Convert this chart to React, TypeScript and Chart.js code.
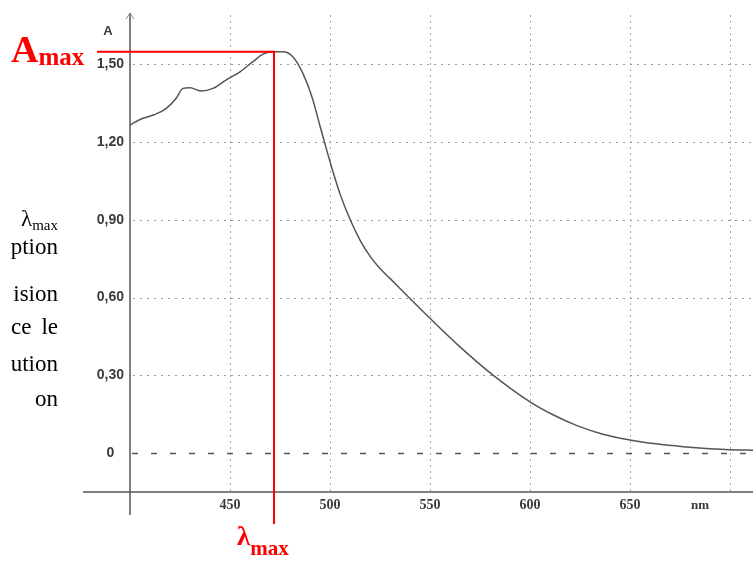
import React, { useEffect, useRef } from "react";
import { Chart, registerables } from "chart.js";

Chart.register(...registerables);

// ---- data ----
const WAVELENGTHS = [
  400, 405, 412, 418, 423, 426.5, 430, 435.5, 441.5, 448, 455, 461.5, 466.5,
  472, 476.5, 481.5, 486.5, 491, 495, 498.5, 501.5, 505, 510, 515, 520, 525,
  530, 538.5, 550, 565, 581.5, 600, 611.5, 623.5, 636.5, 650, 663, 676.5, 690,
  700, 711.5,
];
const ABSORBANCE = [
  1.265, 1.287, 1.305, 1.329, 1.368, 1.407, 1.409, 1.397, 1.407, 1.439, 1.471,
  1.51, 1.539, 1.548, 1.548, 1.528, 1.464, 1.374, 1.262, 1.165, 1.085, 1.0,
  0.902, 0.822, 0.76, 0.712, 0.674, 0.608, 0.52, 0.41, 0.301, 0.198, 0.148,
  0.106, 0.073, 0.051, 0.036, 0.025, 0.017, 0.013, 0.011,
];
const X_TICKS = [450, 500, 550, 600, 650, 700];
const X_TICK_LABELS = ["450", "500", "550", "600", "650", ""];
const Y_TICKS = [0, 0.3, 0.6, 0.9, 1.2, 1.5];
const Y_TICK_LABELS = ["0", "0,30", "0,60", "0,90", "1,20", "1,50"];
const X_MIN = 400;
const X_MAX = 711.5;
const Y_MIN = -0.15;
const Y_MAX = 1.69;
const LAMBDA_MAX = 472;
const A_MAX = 1.548;
const LEFT_TEXT = ["ption", "ision", "ution", "on"];

const decor = {
  id: "decor",
  beforeDatasetsDraw(chart: any) {
    const { ctx, chartArea: a, scales } = chart;
    const x = scales.x;
    const y = scales.y;
    const line = (x1: number, y1: number, x2: number, y2: number) => {
      ctx.beginPath();
      ctx.moveTo(x1, y1);
      ctx.lineTo(x2, y2);
      ctx.stroke();
    };
    ctx.save();
    ctx.lineWidth = 1;
    ctx.strokeStyle = "#a8a8a8";
    ctx.setLineDash([2, 4]);
    x.ticks.forEach((t: any) => {
      const px = Math.round(x.getPixelForValue(t.value)) + 0.5;
      line(px, a.top, px, a.bottom);
    });
    ctx.strokeStyle = "#999";
    ctx.setLineDash([2, 5]);
    y.ticks.forEach((t: any) => {
      if (t.value === 0) return;
      const py = Math.round(y.getPixelForValue(t.value)) + 0.5;
      line(a.left + 3, py, a.right, py);
    });
    ctx.strokeStyle = "#555";
    ctx.lineWidth = 1.3;
    ctx.setLineDash([6, 13]);
    const p0 = Math.round(y.getPixelForValue(0)) + 0.5;
    line(a.left + 2, p0, a.right, p0);
    ctx.restore();
  },
  afterDatasetsDraw(chart: any) {
    const { ctx, chartArea: a, scales } = chart;
    const x = scales.x;
    const y = scales.y;
    const line = (x1: number, y1: number, x2: number, y2: number) => {
      ctx.beginPath();
      ctx.moveTo(x1, y1);
      ctx.lineTo(x2, y2);
      ctx.stroke();
    };
    ctx.save();
    ctx.setLineDash([]);
    ctx.strokeStyle = "#555";
    ctx.lineWidth = 1.5;
    line(a.left - 47, a.bottom, a.right, a.bottom);
    line(a.left, a.top - 2, a.left, a.bottom + 23);
    ctx.lineWidth = 1;
    ctx.strokeStyle = "#888";
    line(a.left - 4, a.top + 4, a.left, a.top - 2);
    line(a.left + 4, a.top + 4, a.left, a.top - 2);
    ctx.strokeStyle = "#ff0000";
    ctx.lineWidth = 2;
    const lx = x.getPixelForValue(LAMBDA_MAX);
    const ly = y.getPixelForValue(A_MAX);
    line(a.left - 33, ly, lx + 1, ly);
    line(lx, ly, lx, a.bottom + 32);
    ctx.restore();
  },
};

export default function App() {
  const ref = useRef<HTMLCanvasElement | null>(null);
  useEffect(() => {
    if (!ref.current) return;
    const chart = new Chart(ref.current, {
      type: "line",
      data: {
        datasets: [
          {
            data: WAVELENGTHS.map((w, i) => ({ x: w, y: ABSORBANCE[i] })),
            borderColor: "#555",
            borderWidth: 1.5,
            pointRadius: 0,
            fill: false,
            cubicInterpolationMode: "monotone",
          },
        ],
      },
      options: {
        animation: false,
        responsive: false,
        events: [],
        layout: { padding: { top: 15, left: 0, right: 0, bottom: 0 } },
        plugins: { legend: { display: false }, tooltip: { enabled: false } },
        scales: {
          x: {
            type: "linear",
            min: X_MIN,
            max: X_MAX,
            afterBuildTicks: (s: any) => {
              s.ticks = X_TICKS.map((v) => ({ value: v }));
            },
            afterFit: (s: any) => {
              s.height = 69;
            },
            grid: { display: false, drawTicks: false },
            border: { display: false },
            ticks: {
              autoSkip: false,
              maxRotation: 0,
              padding: 5,
              color: "#3a3a3a",
              font: { family: "Liberation Serif", weight: "bold", size: 14 },
              callback: (_v: any, i: number) => X_TICK_LABELS[i],
            },
          },
          y: {
            type: "linear",
            min: Y_MIN,
            max: Y_MAX,
            afterBuildTicks: (s: any) => {
              s.ticks = Y_TICKS.map((v) => ({ value: v }));
            },
            afterFit: (s: any) => {
              s.width = 130;
            },
            grid: { display: false, drawTicks: false },
            border: { display: false },
            ticks: {
              padding: 6,
              crossAlign: "center",
              color: "#3a3a3a",
              font: { family: "Liberation Sans", weight: "bold", size: 14 },
              callback: (_v: any, i: number) => Y_TICK_LABELS[i],
            },
          },
        },
      },
      plugins: [decor],
    } as any);
    return () => chart.destroy();
  }, []);

  const serif = '"Liberation Serif", "Times New Roman", serif';
  const leftBaselines = [254, 301, 371, 406];
  return (
    <div
      style={{
        position: "absolute",
        left: 0,
        top: 0,
        width: 753,
        height: 561,
        overflow: "hidden",
        background: "#fff",
      }}
    >
      <canvas
        ref={ref}
        width={753}
        height={561}
        style={{ width: 753, height: 561, display: "block" }}
      />
      {/* left paragraph fragments */}
      <div
        style={{
          position: "absolute",
          right: 753 - 58,
          top: 226 - 0.8375 * 23,
          font: `23px ${serif}`,
          lineHeight: 1,
          color: "#000",
          whiteSpace: "nowrap",
        }}
      >
        λ
        <span style={{ fontSize: 15, position: "relative", top: 4 }}>max</span>
      </div>
      {LEFT_TEXT.map((t, i) => (
        <div
          key={t}
          style={{
            position: "absolute",
            right: 753 - 58,
            top: leftBaselines[i] - 0.8375 * 23,
            font: `23px ${serif}`,
            lineHeight: 1,
            color: "#000",
            whiteSpace: "nowrap",
          }}
        >
          {t}
        </div>
      ))}
      <div
        style={{
          position: "absolute",
          left: 11,
          width: 47,
          top: 334 - 0.8375 * 23,
          font: `23px ${serif}`,
          lineHeight: 1,
          color: "#000",
          display: "flex",
          justifyContent: "space-between",
        }}
      >
        <span>ce</span>
        <span>le</span>
      </div>
      {/* axis unit labels */}
      <div
        style={{
          position: "absolute",
          left: 108 - 20,
          width: 40,
          top: 24,
          textAlign: "center",
          font: 'bold 13px "Liberation Sans", Arial, sans-serif',
          lineHeight: 1,
          color: "#3a3a3a",
        }}
      >
        A
      </div>
      <div
        style={{
          position: "absolute",
          left: 700 - 30,
          width: 60,
          top: 498,
          textAlign: "center",
          font: `bold 13px ${serif}`,
          lineHeight: 1,
          color: "#3a3a3a",
        }}
      >
        nm
      </div>
      {/* red annotations */}
      <div
        style={{
          position: "absolute",
          left: 11,
          top: 62 - 0.8375 * 38,
          font: `bold 38px ${serif}`,
          lineHeight: 1,
          color: "#ff0000",
          whiteSpace: "nowrap",
        }}
      >
        A
        <span style={{ fontSize: 25, position: "relative", top: 3 }}>max</span>
      </div>
      <div
        style={{
          position: "absolute",
          left: 237,
          top: 546 - 0.8375 * 27,
          font: `bold 27px ${serif}`,
          lineHeight: 1,
          color: "#ff0000",
          whiteSpace: "nowrap",
        }}
      >
        λ
        <span style={{ fontSize: 21, position: "relative", top: 10 }}>max</span>
      </div>
    </div>
  );
}
